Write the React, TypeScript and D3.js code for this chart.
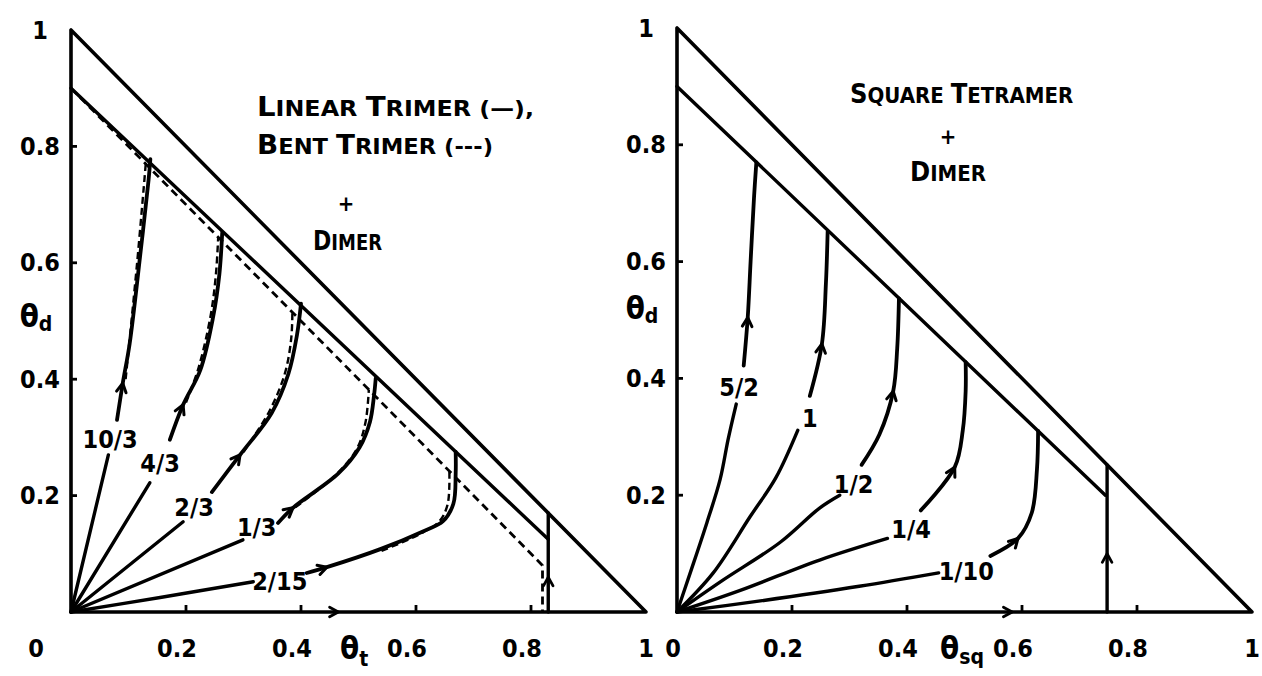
import React from "react";
import * as d3 from "d3";

type Pt = [number, number];

const W = 1262;
const H = 676;
const FONT = "'DejaVu Sans Condensed', 'Liberation Sans Narrow', 'DejaVu Sans', sans-serif";

// shared axis ticks
const tickValues = [0, 0.2, 0.4, 0.6, 0.8, 1];
const tickLabels = ["0", "0.2", "0.4", "0.6", "0.8", "1"];
const minorTicks = [0.2, 0.4, 0.6, 0.8];

// ---- left panel: linear / bent trimer + dimer ----
const trimerRatios = ["10/3", "4/3", "2/3", "1/3", "2/15"];
const trimerLabelAt: Pt[] = [[0.068, 0.296], [0.155, 0.256], [0.214, 0.18], [0.323, 0.146], [0.363, 0.052]];
const trimerLower: Pt[][] = [
  [[0, 0], [0.065, 0.27]],
  [[0, 0], [0.137, 0.222]],
  [[0, 0], [0.195, 0.155]],
  [[0, 0], [0.299, 0.124]],
  [[0, 0], [0.155, 0.025], [0.317, 0.052]],
];
const trimerUpper: Pt[][] = [
  [[0.08, 0.33], [0.09, 0.393], [0.102, 0.461], [0.12, 0.61], [0.135, 0.743], [0.138, 0.778]],
  [[0.172, 0.296], [0.195, 0.356], [0.225, 0.416], [0.247, 0.506], [0.258, 0.58], [0.263, 0.652]],
  [[0.245, 0.206], [0.294, 0.27], [0.349, 0.342], [0.378, 0.409], [0.393, 0.476], [0.4, 0.53]],
  [[0.36, 0.153], [0.386, 0.179], [0.465, 0.238], [0.502, 0.283], [0.52, 0.327], [0.527, 0.372], [0.53, 0.402]],
  [[0.41, 0.067], [0.445, 0.077], [0.538, 0.108], [0.611, 0.138], [0.647, 0.156], [0.665, 0.186], [0.669, 0.238], [0.669, 0.275]],
];
const trimerBentUpper: Pt[][] = [
  [[0.095, 0.4], [0.115, 0.6], [0.13, 0.77]],
  [[0.2, 0.36], [0.222, 0.42], [0.243, 0.51], [0.252, 0.58], [0.256, 0.644]],
  [[0.3, 0.275], [0.345, 0.345], [0.372, 0.41], [0.383, 0.47], [0.385, 0.515]],
  [[0.39, 0.18], [0.46, 0.235], [0.497, 0.28], [0.512, 0.325], [0.518, 0.382]],
  [[0.54, 0.105], [0.605, 0.133], [0.64, 0.155], [0.655, 0.185], [0.658, 0.242]],
];
const trimerArrowIdx = [1, 1, 1, 1, 1];
const trimerInner: Pt[] = [[0, 0.9], [0.83, 0.125]];
const trimerBentEdge: Pt[] = [[0, 0.9], [0.82, 0.08], [0.82, 0]];
const trimerWall = 0.83;
const trimerWallArrow = 0.06;
const trimerBaseArrow = 0.465;
const trimerTitle = ["LINEAR TRIMER (\u2014),", "BENT TRIMER (---)", "+", "DIMER"];

// ---- right panel: square tetramer + dimer ----
const tetraRatios = ["5/2", "1", "1/2", "1/4", "1/10"];
const tetraLabelAt: Pt[] = [[0.108, 0.385], [0.231, 0.332], [0.307, 0.219], [0.407, 0.142], [0.503, 0.07]];
const tetraLower: Pt[][] = [
  [[0, 0], [0.023, 0.067], [0.052, 0.153], [0.075, 0.227], [0.089, 0.296], [0.103, 0.356]],
  [[0, 0], [0.063, 0.067], [0.127, 0.163], [0.172, 0.23], [0.21, 0.311]],
  [[0, 0], [0.076, 0.052], [0.179, 0.119], [0.248, 0.178], [0.283, 0.2]],
  [[0, 0], [0.11, 0.037], [0.248, 0.089], [0.366, 0.126]],
  [[0, 0], [0.145, 0.019], [0.317, 0.044], [0.455, 0.067]],
];
const tetraUpper: Pt[][] = [
  [[0.116, 0.422], [0.123, 0.504], [0.128, 0.6], [0.134, 0.711], [0.138, 0.77]],
  [[0.231, 0.37], [0.252, 0.459], [0.259, 0.563], [0.262, 0.652]],
  [[0.321, 0.252], [0.352, 0.304], [0.376, 0.378], [0.383, 0.452], [0.386, 0.537]],
  [[0.424, 0.174], [0.483, 0.248], [0.497, 0.311], [0.502, 0.378], [0.502, 0.428]],
  [[0.545, 0.096], [0.593, 0.126], [0.617, 0.17], [0.626, 0.244], [0.628, 0.31]],
];
const tetraArrowIdx = [1, 1, 2, 1, 1];
const tetraInner: Pt[] = [[0, 0.9], [0.745, 0.2]];
const tetraWall = 0.748;
const tetraWallArrow = 0.1;
const tetraBaseArrow = 0.583;
const tetraTitle = ["SQUARE TETRAMER", "+", "DIMER"];

function chevron(px: number, py: number, ang: number, len = 10, spread = 0.5) {
  const a1 = ang + Math.PI - spread;
  const a2 = ang + Math.PI + spread;
  return `M${px + len * Math.cos(a1)},${py + len * Math.sin(a1)}L${px},${py}L${px + len * Math.cos(a2)},${py + len * Math.sin(a2)}`;
}

// small-caps style title line: first letter of each word larger
function Caps({ text, x, y, width = null, big = 27, small = 22 }) {
  const words = text.split(" ");
  const fit = width ? { textLength: width, lengthAdjust: "spacingAndGlyphs" } : {};
  return (
    <text x={x} y={y} {...fit} fontFamily={FONT} fontWeight="bold" fontSize={small}>
      {words.map((w, i) => {
        const first = /[A-Z]/.test(w[0]);
        const rest = (first ? w.slice(1) : w) + (i < words.length - 1 ? " " : "");
        return (
          <React.Fragment key={i}>
            {first && <tspan fontSize={big}>{w[0]}</tspan>}
            <tspan fontSize={small}>{rest}</tspan>
          </React.Fragment>
        );
      })}
    </text>
  );
}

function Panel({
  px, py, ratios, labelAt, lower, upper, dashedUpper, arrowIdx, inner, bentEdge,
  wall, wallArrow, baseArrow, zeroDx, thetaY, thetaSub, subDy, xTheta,
}) {
  const x = d3.scaleLinear().domain([0, 1]).range(px);
  const y = d3.scaleLinear().domain([0, 1]).range(py);
  const straight = d3.line<Pt>().x((d) => x(d[0])).y((d) => y(d[1]));
  const smooth = d3
    .line<Pt>()
    .x((d) => x(d[0]))
    .y((d) => y(d[1]))
    .curve(d3.curveCatmullRom.alpha(0.5));

  const outer: Pt[] = [[0, 1], [0, 0], [1, 0], [0, 1]];
  const stroke = { stroke: "#000", fill: "none", strokeLinecap: "round", strokeLinejoin: "round" };

  return (
    <g>
      <path d={straight(outer)} {...stroke} strokeWidth={3.6} />
      <path d={straight(inner)} {...stroke} strokeWidth={3.4} />
      {bentEdge && (
        <path d={straight(bentEdge)} {...stroke} strokeWidth={2.8} strokeDasharray="8 5" strokeLinecap="butt" />
      )}
      <path d={straight([[wall, 0], [wall, 1 - wall]])} {...stroke} strokeWidth={3.4} />

      {/* ticks */}
      {minorTicks.map((v) => (
        <g key={v}>
          <line x1={x(0)} x2={x(0) + 6} y1={y(v)} y2={y(v)} stroke="#000" strokeWidth={2.8} />
          <line x1={x(v)} x2={x(v)} y1={y(0)} y2={y(0) - 7} stroke="#000" strokeWidth={2.8} />
        </g>
      ))}

      {/* flow arrows on baseline and wall */}
      <path d={chevron(x(baseArrow), y(0), 0)} {...stroke} strokeWidth={2.8} />
      <path d={chevron(x(wall), y(wallArrow), -Math.PI / 2)} {...stroke} strokeWidth={2.8} />

      {/* trajectories */}
      {ratios.map((r, i) => {
        const up = upper[i];
        const k = arrowIdx[i];
        const p0 = up[k - 1];
        const p1 = up[k + 1];
        const ang = Math.atan2(y(p1[1]) - y(p0[1]), x(p1[0]) - x(p0[0]));
        const la = labelAt[i];
        return (
          <g key={r}>
            <path d={smooth(lower[i])} {...stroke} strokeWidth={3.4} />
            <path d={smooth(up)} {...stroke} strokeWidth={3.8} />
            {dashedUpper && (
              <path d={smooth(dashedUpper[i])} {...stroke} strokeWidth={2.4} strokeDasharray="7 4" strokeLinecap="butt" />
            )}
            <path d={chevron(x(up[k][0]), y(up[k][1]), ang)} {...stroke} strokeWidth={3} />
            <text
              x={x(la[0])}
              y={y(la[1])}
              textAnchor="middle"
              dominantBaseline="central"
              fontFamily={FONT}
              fontWeight="bold"
              fontSize={25}
            >
              {r}
            </text>
          </g>
        );
      })}

      {/* y tick labels */}
      {tickValues.slice(1).map((v, i) => (
        <text
          key={"y" + v}
          x={x(0) - 31}
          y={y(v)}
          textAnchor="middle"
          dominantBaseline="central"
          fontFamily={FONT}
          fontWeight="bold"
          fontSize={25}
        >
          {tickLabels[i + 1]}
        </text>
      ))}
      {/* x tick labels */}
      {tickValues.map((v, i) => (
        <text
          key={"x" + v}
          x={x(v) + (v === 0 ? zeroDx : v === 1 ? 0 : -9)}
          y={648}
          textAnchor="middle"
          dominantBaseline="central"
          fontFamily={FONT}
          fontWeight="bold"
          fontSize={25}
        >
          {tickLabels[i]}
        </text>
      ))}

      {/* axis titles */}
      <text x={x(0) - 35} y={thetaY} textAnchor="middle" dominantBaseline="central" fontFamily={FONT} fontWeight="bold">
        <tspan fontSize={31}>θ</tspan>
        <tspan fontSize={21} dy={8}>d</tspan>
      </text>
      <text x={xTheta} y={648} textAnchor="start" dominantBaseline="central" fontFamily={FONT} fontWeight="bold">
        <tspan fontSize={31}>θ</tspan>
        <tspan fontSize={21} dy={subDy}>{thetaSub}</tspan>
      </text>
    </g>
  );
}

export default function App() {
  return (
    <svg
      width={W}
      height={H}
      viewBox={`0 0 ${W} ${H}`}
      style={{ position: "absolute", left: 0, top: 0, background: "#fff" }}
    >
      <rect width={W} height={H} fill="#fff" />
      <Panel
        px={[71, 646]}
        py={[612, 30]}
        ratios={trimerRatios}
        labelAt={trimerLabelAt}
        lower={trimerLower}
        upper={trimerUpper}
        dashedUpper={trimerBentUpper}
        arrowIdx={trimerArrowIdx}
        inner={trimerInner}
        bentEdge={trimerBentEdge}
        wall={trimerWall}
        wallArrow={trimerWallArrow}
        baseArrow={trimerBaseArrow}
        zeroDx={-35}
        thetaY={316}
        thetaSub="t"
        subDy={11}
        xTheta={340}
      />
      <Panel
        px={[677, 1252]}
        py={[612, 28]}
        ratios={tetraRatios}
        labelAt={tetraLabelAt}
        lower={tetraLower}
        upper={tetraUpper}
        dashedUpper={null}
        arrowIdx={tetraArrowIdx}
        inner={tetraInner}
        bentEdge={null}
        wall={tetraWall}
        wallArrow={tetraWallArrow}
        baseArrow={tetraBaseArrow}
        zeroDx={-4}
        thetaY={308}
        thetaSub="sq"
        subDy={9}
        xTheta={940}
      />

      {/* panel titles */}
      <Caps text={trimerTitle[0]} x={257} y={116} width={277} />
      <Caps text={trimerTitle[1]} x={257} y={154} width={236} />
      <text x={346} y={203} textAnchor="middle" dominantBaseline="central" fontFamily={FONT} fontWeight="bold" fontSize={22}>
        {trimerTitle[2]}
      </text>
      <Caps text={trimerTitle[3]} x={313} y={250} width={69} />

      <Caps text={tetraTitle[0]} x={850} y={103} />
      <text x={948} y={136} textAnchor="middle" dominantBaseline="central" fontFamily={FONT} fontWeight="bold" fontSize={22}>
        {tetraTitle[1]}
      </text>
      <Caps text={tetraTitle[2]} x={910} y={181} />
    </svg>
  );
}
